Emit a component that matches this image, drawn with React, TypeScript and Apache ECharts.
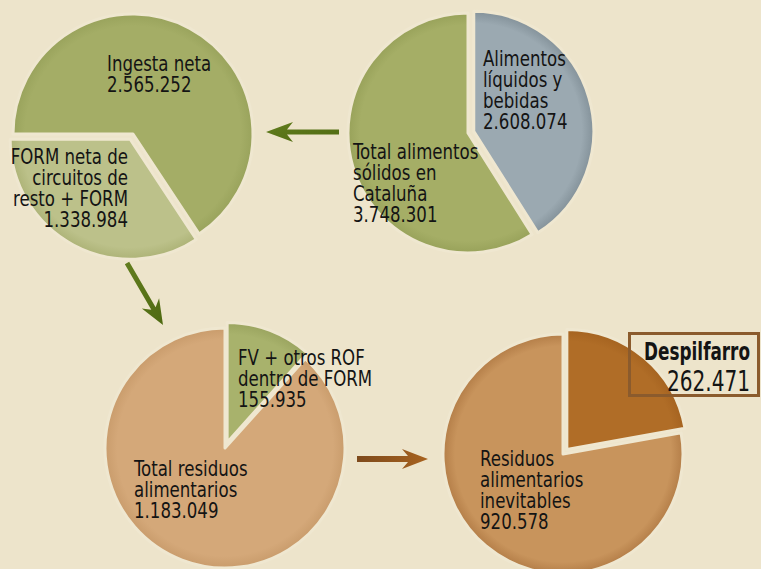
import React, { useEffect, useRef } from "react";
import * as echarts from "echarts";

// ---- Data ----
const pie1Names = ["Alimentos\nlíquidos y\nbebidas", "Total alimentos\nsólidos en\nCataluña"];
const pie1Values = [2608074, 3748301];
const pie2Names = ["Ingesta neta", "FORM neta de\ncircuitos de\nresto + FORM"];
const pie2Values = [2565252, 1338984];
const pie3Names = ["FV + otros ROF\ndentro de FORM", "Total residuos\nalimentarios"];
const pie3Values = [155935, 1183049];
const pie4Names = ["Despilfarro", "Residuos\nalimentarios\ninevitables"];
const pie4Values = [262471, 920578];

const fmt = (v: number) => v.toString().replace(/\B(?=(\d{3})+(?!\d))/g, ".");

const BG = "#ede4cb";
const GAP = "#efe7d0";
const FONT = '"DejaVu Sans Condensed", "DejaVu Sans", sans-serif';

function rimGradient(cx: number, cy: number, r: number, base: string, rim: string) {
  return {
    type: "radial",
    x: cx,
    y: cy,
    r: r,
    global: true,
    colorStops: [
      { offset: 0, color: base },
      { offset: 0.9, color: base },
      { offset: 1, color: rim },
    ],
  };
}

function item(name: string, value: number, color: any, selected: boolean) {
  const st = { color, borderColor: GAP, borderWidth: 3 };
  return { name, value, selected, itemStyle: st, select: { itemStyle: st } };
}

function pieSeries(cx: number, cy: number, r: number, startAngle: number, data: any[]) {
  return {
    type: "pie",
    center: [cx, cy],
    radius: r,
    startAngle,
    clockwise: true,
    silent: true,
    selectedMode: "multiple",
    selectedOffset: 6,
    label: { show: false },
    labelLine: { show: false },
    emphasis: { disabled: true },
    data,
  };
}

function arrow(x1: number, y1: number, x2: number, y2: number, sw: number, hl: number, hh: number, notch: number) {
  const dx = x2 - x1, dy = y2 - y1;
  const L = Math.hypot(dx, dy);
  const ux = dx / L, uy = dy / L;
  const nx = -uy, ny = ux;
  const neckX = x2 - (hl - notch) * ux, neckY = y2 - (hl - notch) * uy;
  const backX = x2 - hl * ux, backY = y2 - hl * uy;
  const h = sw / 2;
  return [
    [x1 + h * nx, y1 + h * ny],
    [neckX + h * nx, neckY + h * ny],
    [backX + hh * nx, backY + hh * ny],
    [x2, y2],
    [backX - hh * nx, backY - hh * ny],
    [neckX - h * nx, neckY - h * ny],
    [x1 - h * nx, y1 - h * ny],
  ];
}

function label(
  text: string, x: number, y: number, align: string = "left",
  size = 22, lh = 21, weight: any = "normal", sx = 0.84
) {
  return {
    type: "text",
    z: 100,
    silent: true,
    x,
    y,
    scaleX: sx,
    style: {
      text,
      x: 0,
      y: 0,
      align,
      verticalAlign: "top",
      fontSize: size,
      lineHeight: lh,
      fontFamily: FONT,
      fontWeight: weight,
      fill: "#141414",
    },
  };
}

export default function App() {
  const ref = useRef<HTMLDivElement>(null);
  useEffect(() => {
    if (!ref.current) return;
    const chart = echarts.init(ref.current, undefined, { renderer: "svg" });

    const greenArrow = {
      type: "linear", x: 0, y: 0, x2: 1, y2: 1,
      colorStops: [{ offset: 0, color: "#627d1e" }, { offset: 1, color: "#4f6a12" }],
    };
    const brownArrow = {
      type: "linear", x: 0, y: 0, x2: 1, y2: 0,
      colorStops: [{ offset: 0, color: "#7e4a1c" }, { offset: 1, color: "#a7621f" }],
    };

    const option: any = {
      animation: false,
      backgroundColor: BG,
      series: [
        pieSeries(468, 133, 120, 90, [
          item(pie1Names[0], pie1Values[0], rimGradient(468, 133, 120, "#9ba9b1", "#84929a"), true),
          item(pie1Names[1], pie1Values[1], rimGradient(468, 133, 120, "#a5ae66", "#98a25a"), false),
        ]),
        pieSeries(133, 134, 120, 180, [
          item(pie2Names[0], pie2Values[0], rimGradient(133, 134, 120, "#a4ad66", "#99a35c"), false),
          item(pie2Names[1], pie2Values[1], rimGradient(133, 134, 120, "#bcc18a", "#adb377"), true),
        ]),
        pieSeries(225, 448, 120, 90, [
          item(pie3Names[0], pie3Values[0], rimGradient(225, 448, 120, "#a8b26c", "#9aa45f"), true),
          item(pie3Names[1], pie3Values[1], rimGradient(225, 448, 120, "#d4a879", "#c99c6c"), false),
        ]),
        pieSeries(563, 454, 120, 90, [
          item(pie4Names[0], pie4Values[0], rimGradient(563, 454, 120, "#b06d27", "#a56320"), true),
          item(pie4Names[1], pie4Values[1], rimGradient(563, 454, 120, "#c8945c", "#b47e48"), false),
        ]),
      ],
      graphic: [
        { type: "polygon", z: 50, silent: true, shape: { points: arrow(339, 132, 266, 132, 5, 27, 10, 6) }, style: { fill: greenArrow } },
        { type: "polygon", z: 50, silent: true, shape: { points: arrow(127, 263, 163, 325, 5, 25, 10, 6) }, style: { fill: greenArrow } },
        { type: "polygon", z: 50, silent: true, shape: { points: arrow(357, 459, 428, 459, 6, 26, 10, 6) }, style: { fill: brownArrow } },
        label(pie1Names[0] + "\n" + fmt(pie1Values[0]), 483, 48),
        label(pie1Names[1] + "\n" + fmt(pie1Values[1]), 353, 141),
        label(pie2Names[0] + "\n" + fmt(pie2Values[0]), 107, 53),
        label(pie2Names[1] + "\n" + fmt(pie2Values[1]), 128, 146, "right"),
        label(pie3Names[0] + "\n" + fmt(pie3Values[0]), 238, 347),
        label(pie3Names[1] + "\n" + fmt(pie3Values[1]), 134, 458),
        label(pie4Names[1] + "\n" + fmt(pie4Values[1]), 480, 448),
        {
          type: "rect", z: 90, silent: true,
          shape: { x: 629.5, y: 333.5, width: 129, height: 62 },
          style: { fill: "rgba(0,0,0,0)", stroke: "#8b5b2d", lineWidth: 3 },
        },
        label(pie4Names[0], 750, 340, "right", 24, 24, "bold", 0.78),
        label(fmt(pie4Values[0]), 750, 366, "right", 29, 29, "normal", 0.77),
      ],
    };
    chart.setOption(option);
    return () => chart.dispose();
  }, []);
  return (
    <div
      ref={ref}
      style={{ position: "fixed", left: 0, top: 0, width: 761, height: 569 }}
    />
  );
}
